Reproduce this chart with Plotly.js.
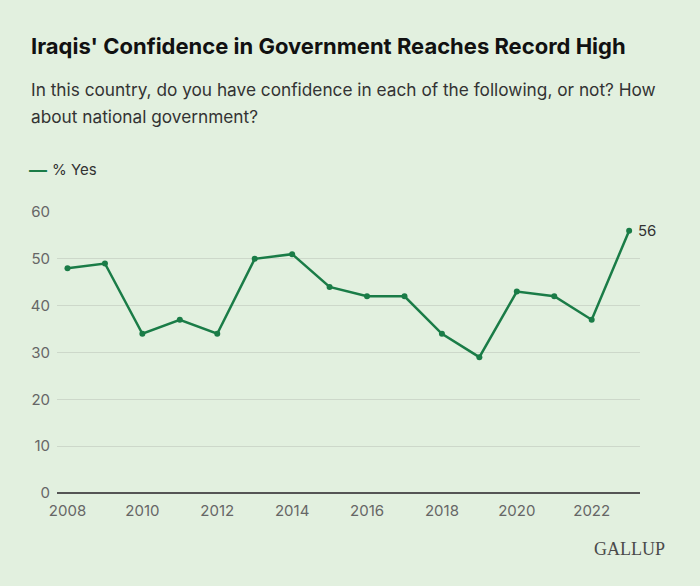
<!DOCTYPE html>
<html><head><meta charset="utf-8">
<script src="https://cdn.plot.ly/plotly-3.0.1.min.js"></script>
<style>html,body{margin:0;padding:0;background:#e2f0df;}#chart{width:700px;height:586px;}</style>
</head><body><div id="chart"></div>
<script>
const years = [2008,2009,2010,2011,2012,2013,2014,2015,2016,2017,2018,2019,2020,2021,2022,2023];
const yesPct = [48,49,34,37,34,50,51,44,42,42,34,29,43,42,37,56];
const yTicks = [0,10,20,30,40,50,60];
const xTicks = [2008,2010,2012,2014,2016,2018,2020,2022];
const seriesName = '% Yes';
const titleText = "Iraqis' Confidence in Government Reaches Record High";
const subtitleLines = ["In this country, do you have confidence in each of the following, or not? How", "about national government?"];

const L=57, R=60, T=212, B=93, W=700, H=586;
const pw = W-L-R, ph = H-T-B;
const px = v => (v-L)/pw;
const py = v => (H-B-v)/ph;
const green = '#1a7c47';
const font = 'Inter, Roboto, "Noto Sans", sans-serif';

const trace = {
  x: years, y: yesPct, name: seriesName, type: 'scatter', mode: 'lines+markers',
  line: {color: green, width: 2.5}, marker: {color: green, size: 6},
  showlegend: false, cliponaxis: false
};

const annotations = [
  {xref:'paper', yref:'paper', x: px(29), y: py(45.5), xanchor:'left', yanchor:'middle',
   text: '<b>'+titleText+'</b>', showarrow:false, font:{size:22, color:'#111', family:font}},
  {xref:'paper', yref:'paper', x: px(27), y: py(169), xanchor:'left', yanchor:'middle',
   text: '<b>—</b>', showarrow:false, font:{size:18, color:green, family:font}},
  {xref:'paper', yref:'paper', x: px(50), y: py(169), xanchor:'left', yanchor:'middle',
   text: seriesName, showarrow:false, font:{size:15, color:'#333', family:font}},
  {xref:'x', yref:'y', x: years[years.length-1], y: yesPct[yesPct.length-1], xanchor:'left', yanchor:'middle', xshift: 7,
   text: String(yesPct[yesPct.length-1]), showarrow:false, font:{size:15, color:'#333', family:font}},
  {xref:'paper', yref:'paper', x: px(667), y: py(549), xanchor:'right', yanchor:'middle',
   text: 'GALLUP', showarrow:false, font:{size:18, color:'#4a4a4a', family:'"Liberation Serif", "DejaVu Serif", serif'}}
];
subtitleLines.forEach((line, i) => {
  annotations.push({xref:'paper', yref:'paper', x: px(29), y: py(89.5 + 27*i), xanchor:'left', yanchor:'middle',
    text: line, showarrow:false, font:{size:17.25, color:'#333', family:font}});
});

const layout = {
  width: W, height: H,
  margin: {l: L, r: R, t: T, b: B},
  paper_bgcolor: '#e2f0df', plot_bgcolor: '#e2f0df',
  font: {family: font, color: '#666'},
  xaxis: {
    range: [2007.72, 2023.29], tickvals: xTicks, ticktext: xTicks.map(String),
    showgrid: false, zeroline: false, showline: false, ticks: '',
    tickfont: {size: 15, color: '#666'}, ticklabelstandoff: 7
  },
  yaxis: {
    range: [0, 60], tickvals: yTicks, ticktext: yTicks.map(String),
    showgrid: true, gridcolor: '#cdd8ca', gridwidth: 1,
    zeroline: true, zerolinecolor: '#555', zerolinewidth: 1.5,
    ticks: '', tickfont: {size: 15, color: '#666'}, ticklabelstandoff: 6
  },
  annotations: annotations
};
Plotly.newPlot('chart', [trace], layout, {displayModeBar:false, staticPlot:true});
</script></body></html>
